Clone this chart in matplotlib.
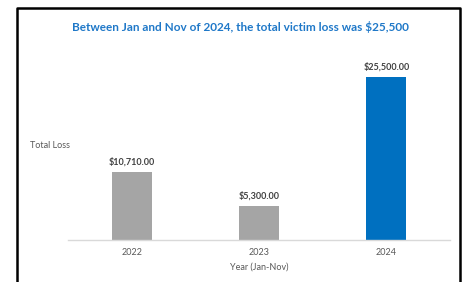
from matplotlib import pyplot as plt
from matplotlib.lines import Line2D

years = ['2022', '2023', '2024']
losses = [10710, 5300, 25500]
bar_colors = ['#a5a5a5', '#a5a5a5', '#0070c0']

plt.rcParams['font.family'] = ['Lato', 'DejaVu Sans']

fig = plt.figure(figsize=(4.64, 2.82), dpi=100)
W, H = 464, 282

# axes placed in pixel terms
left, right, bottom, top = 68, 450, 240, 60
ax = fig.add_axes([left / W, (H - bottom) / H, (right - left) / W, (bottom - top) / H])

pos = range(len(years))
ax.bar(pos, losses, width=0.315, color=bar_colors)
for p, v in zip(pos, losses):
    ax.text(p, v + 800, f'${v:,.2f}', ha='center', va='bottom',
            fontsize=6.5, fontweight='bold', color='#404040')

ax.set_xlim(-0.5, 2.5)
ax.set_ylim(0, 25500 * (bottom - top) / 163)
ax.set_xticks(list(pos))
ax.set_xticklabels(years, fontsize=6.5, color='#595959')
ax.tick_params(axis='x', length=0, pad=6)
ax.set_yticks([])
for s in ['top', 'right', 'left']:
    ax.spines[s].set_visible(False)
ax.spines['bottom'].set_color('#d9d9d9')
ax.spines['bottom'].set_linewidth(1)
ax.set_xlabel('Year (Jan-Nov)', fontsize=6.5, color='#595959', labelpad=4)

fig.text(30 / W, 1 - 145 / H, 'Total Loss', fontsize=6.5, color='#595959', va='center')
fig.text(240 / W, 1 - 27 / H, 'Between Jan and Nov of 2024, the total victim loss was $25,500',
         ha='center', va='center', fontsize=8.5, fontweight='bold', color='#1f78c8')

# outer black frame (bottom edge cut off)
x0, x1, y0 = 17.5 / W, 460 / W, 1 - 7.5 / H
fig.add_artist(Line2D([x0, x0, x1, x1], [0, y0, y0, 0], transform=fig.transFigure,
                      color='black', linewidth=1.8))

fig.savefig('out.png', dpi=100)
